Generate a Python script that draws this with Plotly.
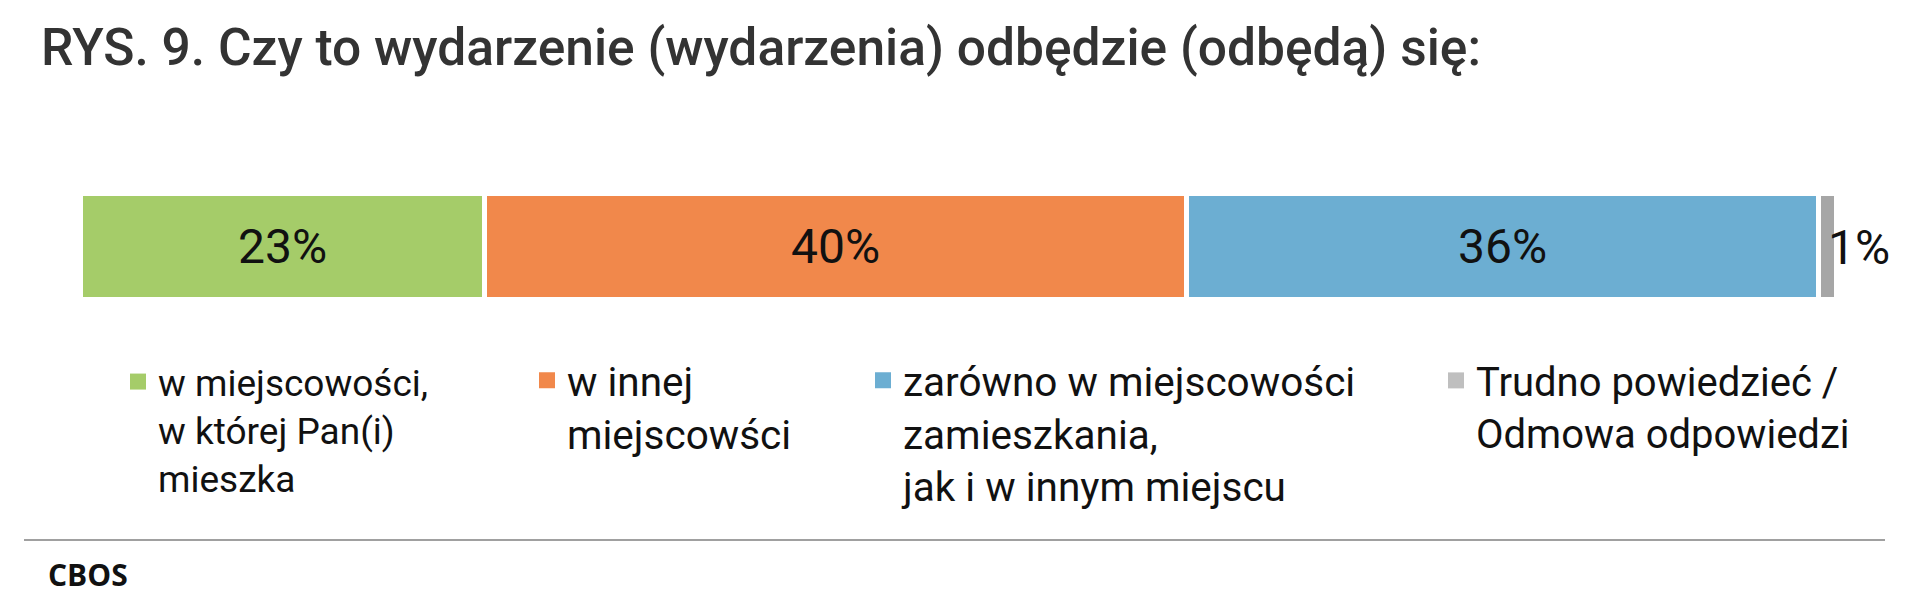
import plotly.graph_objects as go

title = "RYS. 9. Czy to wydarzenie (wydarzenia) odbędzie (odbędą) się:"
categories = [
    "w miejscowości,<br>w której Pan(i)<br>mieszka",
    "w innej<br>miejscowści",
    "zarówno w miejscowości<br>zamieszkania,<br>jak i w innym miejscu",
    "Trudno powiedzieć /<br>Odmowa odpowiedzi",
]
values = [23, 40, 36, 1]
labels = ["23%", "40%", "36%", "1%"]
bar_colors = ["#A5CC69", "#F1884B", "#6CAED2", "#A6A6A6"]
legend_colors = ["#A5CC69", "#F1884B", "#6CAED2", "#BFBFBF"]

W, H = 1911, 592
L, R, T, B = 73, 82, 186, 300
PW, PH = W - L - R, H - T - B


def px_x(x):
    return (x - L) / PW


def px_y(y):
    return 1 - (y - T) / PH


fig = go.Figure()

legend_names = ["legend", "legend2", "legend3", "legend4"]
legend_left = [110, 519, 855, 1428]
legend_size = [37, 40.5, 40.5, 40]

for i in range(len(values)):
    last = i == len(values) - 1
    fig.add_trace(go.Bar(
        x=[values[i]], y=[0], orientation="h", width=1,
        marker=dict(color=bar_colors[i], line=dict(color="white", width=5)),
        text=None if last else [labels[i]],
        textposition="inside",
        insidetextanchor="middle",
        textfont=dict(size=48, color="#111111", family="Roboto"),
        constraintext="none",
        showlegend=False, hoverinfo="skip",
    ))
    # legend entry only
    fig.add_trace(go.Scatter(
        x=[None], y=[None], mode="markers", name=categories[i],
        marker=dict(symbol="square", size=17, color=legend_colors[i]),
        legend=legend_names[i],
    ))

# small last segment gets its label right after the bar end
fig.add_annotation(
    x=sum(values), y=0, xref="x", yref="y", text=labels[-1],
    xanchor="left", yanchor="middle", showarrow=False, xshift=-11,
    font=dict(size=48, color="#111111", family="Roboto"),
)

layout_legends = {}
for i, name in enumerate(legend_names):
    lh = legend_size[i] * 1.3
    layout_legends[name] = dict(
        x=px_x(legend_left[i]), y=px_y(388 - 6.5 - 0.8 * lh),
        xanchor="left", yanchor="top",
        valign="top", bgcolor="rgba(0,0,0,0)",
        font=dict(family="Roboto", size=legend_size[i], color="#111111"),
        itemwidth=30,
    )

fig.update_layout(
    width=W, height=H,
    margin=dict(l=L, r=R, t=T, b=B),
    plot_bgcolor="white", paper_bgcolor="white",
    barmode="stack", bargap=0,
    title=dict(
        text=title, x=33 / W, xanchor="left", xref="container",
        y=1 - 39 / H, yanchor="middle", yref="container",
        font=dict(family="Roboto", size=51.5, color="#333333", weight=500),
    ),
    xaxis=dict(range=[0, 100], visible=False),
    yaxis=dict(range=[-0.5, 0.5], visible=False),
    showlegend=True,
    **layout_legends,
)

fig.add_shape(
    type="line", xref="paper", yref="paper",
    x0=px_x(16), x1=px_x(1877), y0=px_y(532), y1=px_y(532),
    line=dict(color="#A0A0A0", width=2),
)
fig.add_annotation(
    text="<b>CBOS</b>", xref="paper", yref="paper",
    x=px_x(38), y=px_y(566), xanchor="left", yanchor="middle",
    showarrow=False,
    font=dict(family="Open Sans", size=30, color="#111111"),
)

fig.write_html("out.html")
